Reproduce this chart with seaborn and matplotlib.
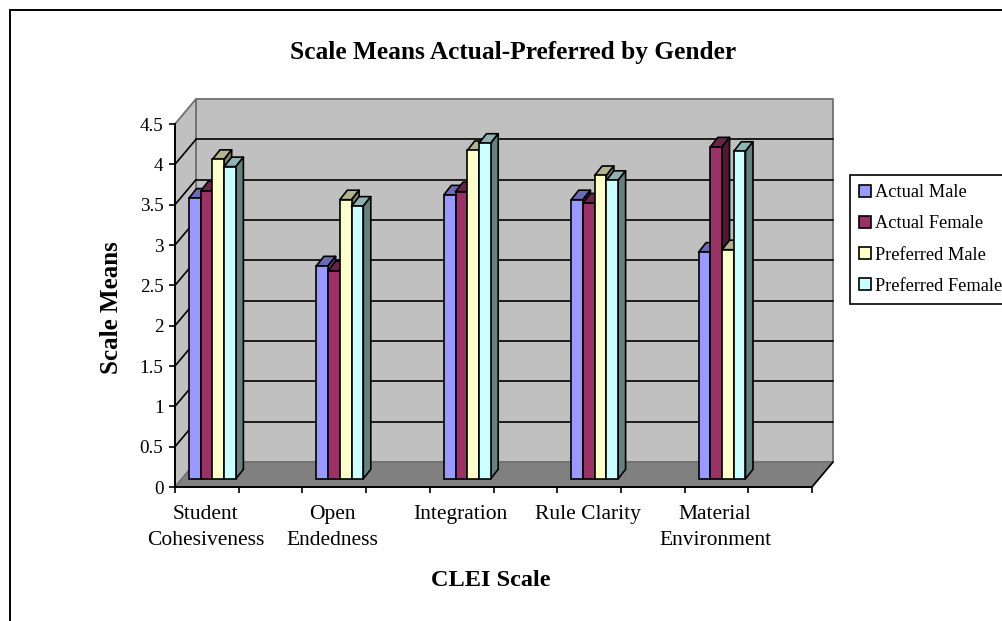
#!/usr/bin/env python3

import numpy as np
import pandas as pd
import matplotlib
matplotlib.use('Agg')
import matplotlib.pyplot as plt
from matplotlib.patches import Polygon, Rectangle
from matplotlib.colors import to_rgb
from matplotlib.transforms import Affine2D
import seaborn as sns

categories = ['Student\nCohesiveness', 'Open\nEndedness', 'Integration', 'Rule Clarity', 'Material\nEnvironment']
actual_male = [3.48, 2.64, 3.52, 3.46, 2.81]
actual_female = [3.57, 2.58, 3.56, 3.42, 4.115]
preferred_male = [3.96, 3.46, 4.07, 3.76, 2.84]
preferred_female = [3.87, 3.38, 4.16, 3.70, 4.06]
series_names = ['Actual Male', 'Actual Female', 'Preferred Male', 'Preferred Female']
series_colors = ['#9999FF', '#993366', '#FFFFCC', '#CCFFFF']
y_ticks = [0, 0.5, 1, 1.5, 2, 2.5, 3, 3.5, 4, 4.5]
y_labels = ['0', '0.5', '1', '1.5', '2', '2.5', '3', '3.5', '4', '4.5']

W, H = 1003, 621
wall_gray = '#C0C0C0'
floor_gray = '#808080'
edge_gray = '#707070'
lw = 1.2

sns.set_style('white')
plt.rcParams['font.family'] = ['Liberation Serif', 'DejaVu Serif']

fig = plt.figure(figsize=(W / 100, H / 100), dpi=100)
fig.patch.set_facecolor('white')

# Axes is the front plane of the fake 3D box
ax = fig.add_axes([175 / W, 1 - 487 / H, 637 / W, 363 / H])
ax.patch.set_visible(False)

df = pd.DataFrame({'scale': categories,
                   series_names[0]: actual_male,
                   series_names[1]: actual_female,
                   series_names[2]: preferred_male,
                   series_names[3]: preferred_female})
df = df.melt(id_vars='scale', var_name='series', value_name='mean')

sns.barplot(data=df, x='scale', y='mean', hue='series', hue_order=series_names,
            order=categories, palette=series_colors, saturation=1, width=0.368, gap=0,
            errorbar=None, edgecolor='black', linewidth=lw, ax=ax)

# Keep the flat bars before any other patch is added, seaborn leaves empty ones for the legend
bars = sorted([p for p in ax.patches if p.get_height() > 0], key=lambda p: p.get_x())

x_left = -0.239
x_right = x_left + 5.0
ax.set_xlim(x_left, x_right)
ax.set_ylim(0, 4.5)

# Pixel offsets into the depth of the box
depth = Affine2D().translate(21, 25)
bar_shift = Affine2D().translate(7, 8.2)
bar_depth = (7.5 / 127.4, 9.5 / 80.67)  # bar thickness in data units


def add_poly(points, color, zorder, transform, edge='black', width=lw):
    ax.add_patch(Polygon(points, closed=True, facecolor=color, edgecolor=edge, linewidth=width,
                         zorder=zorder, transform=transform, clip_on=False, joinstyle='round'))


back = ax.transData + depth

# Walls and floor
add_poly([(x_left, 0), (x_right, 0), (x_right, 4.5), (x_left, 4.5)], wall_gray, 0.2, back, edge_gray, 1.3)
offset_x = 21 / 127.4
offset_y = 25 / 80.67
side_pts = [(x_left, 0), (x_left + offset_x, offset_y), (x_left + offset_x, 4.5 + offset_y), (x_left, 4.5)]
add_poly(side_pts, wall_gray, 0.3, ax.transData, edge_gray, 1.3)
floor_pts = [(x_left, 0), (x_right, 0), (x_right + offset_x, offset_y), (x_left + offset_x, offset_y)]
add_poly(floor_pts, floor_gray, 0.4, ax.transData, edge_gray, 1.0)
ax.plot([x_right, x_right + offset_x], [0, offset_y], color='black', lw=lw, zorder=0.45, clip_on=False)

# Gridlines on back wall and side wall
for v in y_ticks[1:-1]:
    ax.plot([x_left, x_right], [v, v], color='black', lw=lw, zorder=0.35, transform=back, clip_on=False)
    ax.plot([x_left, x_left + offset_x], [v, v + offset_y], color='black', lw=lw, zorder=0.35, clip_on=False)

# Turn the flat seaborn bars into boxes, left to right
shifted = ax.transData + bar_shift
for i, bar in enumerate(bars):
    x0, w, h = bar.get_x(), bar.get_width(), bar.get_height()
    dx, dy = bar_depth
    rgb = np.array(to_rgb(bar.get_facecolor()))
    z = 3 + i * 0.01
    add_poly([(x0, h), (x0 + w, h), (x0 + w + dx, h + dy), (x0 + dx, h + dy)], tuple(rgb * 0.7), z, shifted)
    add_poly([(x0 + w, 0), (x0 + w + dx, dy), (x0 + w + dx, h + dy), (x0 + w, h)], tuple(rgb * 0.5), z, shifted)
    bar.set_transform(shifted)
    bar.set_clip_on(False)
    bar.set_zorder(z + 0.005)

# Axis lines and ticks
sns.despine(ax=ax, top=True, right=True)
for s in ['left', 'bottom']:
    ax.spines[s].set_color('black')
    ax.spines[s].set_linewidth(1.4)
    ax.spines[s].set_zorder(2)

ax.set_yticks(y_ticks)
ax.set_yticklabels(y_labels)
ax.set_xticks(range(len(categories)))
ax.set_xticklabels(categories, linespacing=1.52)
ax.set_xticks(np.linspace(x_left, x_right, 11), minor=True)
ax.tick_params(axis='y', which='major', left=True, length=4.3, width=1.2, color='black', pad=4,
               labelsize=13.8, labelcolor='black')
ax.tick_params(axis='x', which='major', bottom=False, length=0, pad=13, labelsize=15.5, labelcolor='black')
ax.tick_params(axis='x', which='minor', bottom=True, length=4, width=1.2, color='black')

ax.set_ylabel('Scale Means', fontsize=18, fontweight='bold', color='black')
ax.yaxis.set_label_coords((112 - 175) / 637, (487 - 308) / 363)
ax.yaxis.label.set_verticalalignment('center')
ax.set_xlabel('CLEI Scale', fontsize=17.5, fontweight='bold', color='black')
ax.xaxis.set_label_coords((491 - 175) / 637, (487 - 580) / 363)
ax.xaxis.label.set_verticalalignment('center')
ax.set_title('Scale Means Actual-Preferred by Gender', fontsize=18.3, fontweight='bold', color='black',
             x=(513 - 175) / 637, y=(487 - 52) / 363, va='center', pad=0)

# Legend runs off the right side of the picture, like the source
handles, labels = ax.get_legend_handles_labels()
leg = ax.legend(handles, labels, loc='upper left', bbox_to_anchor=(850 / W, 1 - 175 / H),
                bbox_transform=fig.transFigure, borderaxespad=0, borderpad=0.5, fontsize=13.2,
                labelspacing=0.775, handlelength=0.65, handleheight=0.65, handletextpad=0.24,
                fancybox=False, framealpha=1, edgecolor='black', facecolor='white')
leg.get_frame().set_linewidth(1.2)
leg.set_zorder(5)
for t in leg.get_texts():
    t.set_color('black')

# Chart border, only left and top land on the canvas
fig.add_artist(Rectangle((10 / W, -0.1), 1.2, 1 - 10 / H + 0.1, transform=fig.transFigure,
                         fill=False, edgecolor='black', linewidth=1.4))

fig.savefig('out.png', dpi=100)
plt.close(fig)
